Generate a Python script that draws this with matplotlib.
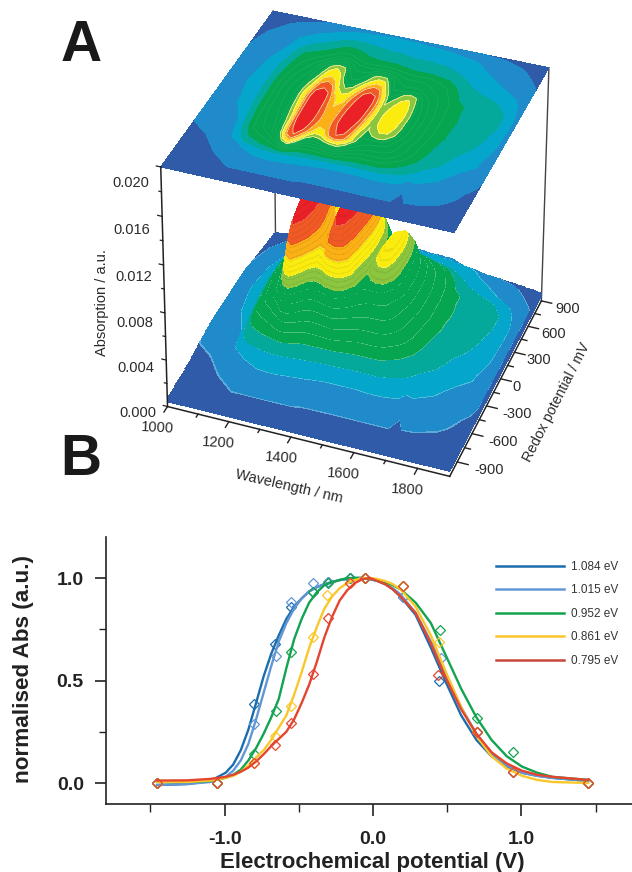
import numpy as np
import matplotlib
matplotlib.use("Agg")
import matplotlib.pyplot as plt

FIG_W, FIG_H = 632, 872
plt.rcParams['font.family'] = ['Liberation Sans', 'DejaVu Sans']

# ---------- Panel A data: absorption (table units, 0.7e-4 each) ----------
wavelengths = [1000,1060,1120,1180,1230,1260,1280,1300,1320,1340,1360,1380,1400,1420,1440,1460,1480,1500,1520,1540,1560,1580,1600,1640,1680,1700,1720,1760,1820,1860,1900]
potentials = [-1050,-900,-750,-650,-575,-500,-425,-350,-275,-200,-125,-50,25,100,175,250,325,400,475,550,650,800,900]
abs_m1050 = [10,11,12,12,13,13,13,13,13,13,13,13,13,13,13,13,13,13,13,13,13,13,13,13,13,6,13,13,13,12,11]
abs_m900 = [12,13,15,18,18,18,18,18,18,18,18,18,17,17,17,17,17,17,17,17,17,17,17,17,17,9,16,16,15,14,12]
abs_m750 = [13,15,19,24,29,30,30,30,29,29,28,28,27,27,26,26,26,26,26,26,26,27,27,27,27,20,26,24,20,17,14]
abs_m650 = [14,17,22,33,41,43,44,44,43,42,41,40,39,38,37,37,37,37,37,37,38,38,39,38,35,29,32,28,23,19,15]
abs_m575 = [16,19,26,50,60,66,74,76,68,62,60,60,60,60,60,60,58,57,56,56,56,56,56,50,45,42,39,34,27,22,17]
abs_m500 = [18,22,28,62,72,84,120,140,108,85,80,80,82,86,90,84,78,75,72,72,72,72,70,62,53,48,44,38,29,24,18]
abs_m425 = [19,24,30,70,84,112,158,178,150,115,105,106,116,122,125,112,100,92,88,86,86,86,84,72,60,54,50,44,33,28,20]
abs_m350 = [21,25,33,73,88,118,172,193,178,150,130,136,160,178,172,146,118,105,100,98,98,96,92,78,64,58,53,47,37,32,23]
abs_m275 = [22,26,35,75,90,122,178,196,188,162,146,150,172,186,184,158,122,110,112,115,114,105,96,80,66,60,55,48,41,33,24]
abs_m200 = [22,28,38,76,93,128,182,197,192,166,150,154,178,192,192,170,132,114,124,130,128,118,104,84,68,62,57,50,44,36,25]
abs_m125 = [22,28,40,77,96,135,186,198,192,165,150,152,178,195,197,178,140,116,130,138,136,122,108,85,70,64,59,52,46,39,26]
abs_m50 = [22,29,41,77,98,140,188,198,190,162,146,150,176,194,198,182,148,117,132,142,140,124,108,86,70,64,59,52,48,41,26]
abs_p25 = [22,30,42,78,100,145,190,198,188,158,142,146,172,192,198,185,152,118,130,142,142,126,108,86,70,64,60,53,49,42,26]
abs_p100 = [22,30,43,78,100,140,182,192,182,148,132,138,164,188,197,186,152,115,124,138,140,124,106,85,70,64,60,53,50,44,26]
abs_p175 = [22,29,42,76,97,128,165,175,165,130,118,124,150,178,188,180,145,110,116,128,134,120,102,82,69,63,59,53,50,44,26]
abs_p250 = [22,28,41,73,92,118,148,156,145,118,106,110,130,155,168,162,128,102,108,116,122,114,96,80,68,62,59,53,50,44,26]
abs_p325 = [22,27,40,69,86,108,132,138,130,108,96,98,108,128,142,138,112,94,90,90,92,90,84,76,64,58,55,51,47,40,25]
abs_p400 = [20,25,37,65,80,98,118,128,122,100,90,90,95,112,118,116,100,88,84,84,84,82,78,72,60,54,51,47,43,36,24]
abs_p475 = [18,24,34,61,70,80,92,100,100,88,80,78,78,80,82,82,78,74,72,72,72,72,70,64,54,49,46,42,37,31,22]
abs_p550 = [17,23,32,52,60,66,72,74,72,68,64,62,62,62,62,62,60,60,58,58,58,58,56,54,47,44,40,36,31,26,20]
abs_p650 = [15,22,30,40,48,54,58,60,59,57,55,53,52,50,50,50,49,48,48,48,48,47,47,44,40,37,35,32,27,22,17]
abs_p800 = [13,16,22,27,32,35,37,38,38,38,38,38,38,38,38,37,37,36,36,36,36,35,35,34,32,31,29,27,20,16,13]
abs_p900 = [11,12,14,18,24,26,27,27,28,28,29,29,30,30,30,30,30,30,29,29,29,28,28,22,20,18,17,16,14,12,11]
abs_rows = [abs_m1050,abs_m900,abs_m750,abs_m650,abs_m575,abs_m500,abs_m425,abs_m350,abs_m275,abs_m200,abs_m125,abs_m50,
            abs_p25,abs_p100,abs_p175,abs_p250,abs_p325,abs_p400,abs_p475,abs_p550,abs_p650,abs_p800,abs_p900]
ABS_UNIT = 0.7e-4

band_edges = [0, 18, 32, 45, 58, 115, 128, 145, 160, 180, 205]
band_colors = ['#2F5BA9','#1F8BCB','#05A6CB','#05A99C','#06A650','#8CC63F','#FBEC10','#FBB116','#F15A24','#EA2227']
pale_levels = [18, 32, 45, 58, 68, 78, 88, 98, 108, 115, 128, 145, 160, 180]

wave_ticks = [1000,1200,1400,1600,1800]
pot_ticks = [-900,-600,-300,0,300,600,900]
abs_ticks = [0.000,0.004,0.008,0.012,0.016,0.020]

# ---------- Panel B data ----------
curve_v = [-1.455,-1.25,-1.096,-.993,-.942,-.891,-.84,-.788,-.737,-.686,-.635,-.584,-.532,-.481,-.43,-.379,-.328,-.276,-.225,-.174,-.123,-.071,-.02,.031,.082,.133,.185,.287,.39,.492,.594,.697,.799,.902,1.004,1.107,1.209,1.45]
curve_1084 = [-.01,-.005,.01,.05,.09,.16,.26,.39,.52,.63,.72,.80,.86,.90,.935,.955,.97,.98,.99,.995,1.0,1.0,.995,.985,.97,.945,.91,.82,.66,.49,.33,.21,.13,.08,.05,.035,.025,.01]
curve_1015 = [-.01,-.005,.005,.03,.06,.11,.19,.31,.44,.57,.69,.78,.85,.90,.935,.955,.97,.98,.99,.995,1.0,1.0,.995,.985,.97,.95,.92,.83,.69,.53,.37,.24,.14,.085,.05,.035,.025,.01]
curve_0952 = [.005,.005,.01,.025,.04,.065,.11,.17,.24,.32,.41,.56,.70,.80,.88,.93,.965,.98,.99,1.0,1.0,1.0,.995,.99,.98,.965,.945,.88,.78,.62,.46,.32,.21,.13,.08,.05,.03,.015]
curve_0861 = [.005,.005,.012,.025,.035,.055,.085,.125,.16,.21,.27,.33,.43,.54,.66,.76,.85,.91,.95,.975,.99,1.0,1.0,.995,.985,.97,.945,.86,.72,.54,.37,.23,.13,.07,.035,.015,.005,.0]
curve_0795 = [.012,.013,.02,.03,.04,.055,.075,.105,.14,.18,.215,.25,.31,.39,.48,.59,.71,.81,.89,.94,.975,.995,1.0,.985,.97,.945,.91,.83,.68,.51,.36,.24,.15,.095,.06,.04,.03,.015]
pts_1084_v = [-1.455,-1.05,-.80,-.66,-.553,-.404,-.303,-.155,-.054,.202,.445,.70,.943,1.449]
pts_1084_a = [0,0,.385,.678,.86,.93,.98,1.0,1.0,.907,.50,.25,.053,0]
pts_1015_v = [-1.455,-1.05,-.80,-.653,-.553,-.404,-.303,-.155,-.054,.202,.458,.70,.943,1.449]
pts_1015_a = [0,0,.288,.62,.883,.975,.98,1.0,1.0,.907,.61,.25,.053,0]
pts_0952_v = [-1.455,-1.05,-.80,-.653,-.553,-.404,-.303,-.155,-.054,.202,.451,.70,.943,1.449]
pts_0952_a = [0,0,.14,.35,.64,.93,.975,1.0,1.0,.96,.746,.317,.15,0]
pts_0861_v = [-1.455,-1.05,-.80,-.66,-.553,-.404,-.31,-.155,-.054,.202,.445,.70,.943,1.449]
pts_0861_a = [0,0,.098,.23,.376,.71,.917,.975,1.0,.96,.69,.25,.053,0]
pts_0795_v = [-1.455,-1.05,-.80,-.66,-.553,-.404,-.303,-.155,-.054,.202,.438,.70,.943,1.449]
pts_0795_a = [0,0,.098,.185,.293,.53,.805,.975,1.0,.96,.527,.25,.053,0]
series_labels = ['1.084 eV','1.015 eV','0.952 eV','0.861 eV','0.795 eV']
series_colors = ['#1B6DAE','#6296D4','#12A350','#FAC72B','#E4452F']
legend_colors = ['#1B6DAE','#6296D4','#12A350','#FAC72B','#C8473A']

# ---------- figure ----------
fig = plt.figure(figsize=(FIG_W/100, FIG_H/100), dpi=100, facecolor='white')

W_MIN, W_MAX, P_MIN, P_MAX, Z_TOP = 1000., 1900., -1050., 900., 0.02
box_pts = [(0,0,0),(1,0,0),(1,1,0),(0,1,0),(0,0,1),(1,0,1),(1,1,1),(0,1,1)]
box_px = [(169,410),(448,475),(541,305),(276,234),(160,168),(455,229),(550,68),(272,13)]
rows = []
for (u,v,w),(px,py) in zip(box_pts, box_px):
    rows.append([u,v,w,1,0,0,0,0,-px*u,-px*v,-px*w,-px])
    rows.append([0,0,0,0,u,v,w,1,-py*u,-py*v,-py*w,-py])
Pn = np.linalg.svd(np.array(rows,float))[2][-1].reshape(3,4)
S = np.array([[1/(W_MAX-W_MIN),0,0,-W_MIN/(W_MAX-W_MIN)],
              [0,1/(P_MAX-P_MIN),0,-P_MIN/(P_MAX-P_MIN)],
              [0,0,1/Z_TOP,0],[0,0,0,1]])
P = Pn @ S
if (P @ np.array([1000,-1050,0,1.]))[2] < 0:
    P = -P

def to_px(x,y,z):
    h = P @ np.array([x,y,z,1.])
    return h[0]/h[2], h[1]/h[2]

def page_text(px,py,s,**kw):
    fig.text(px/FIG_W, 1-py/FIG_H, s, ha=kw.pop('ha','center'), va=kw.pop('va','center'), **kw)

ax3 = fig.add_axes([0, 1-632/872, 1, 632/872], projection='3d', computed_zorder=False)
ax3.set_axis_off()

def fixed_proj():
    A = ax3.transData.inverted().get_matrix()
    D = np.array([[1,0,0],[0,-1,FIG_H],[0,0,1.]])
    H = A @ D @ P
    return np.vstack([H[0],H[1],[0,0,-1,0],H[2]])
ax3.get_proj = fixed_proj

XX, YY = np.meshgrid(np.array(wavelengths,float), np.array(potentials,float))
TT = np.array(abs_rows,float)

INK = '#2a2a2a'
for (wx,py_) in [(W_MIN,P_MAX),(W_MAX,P_MAX)]:
    ax3.plot([wx,wx],[py_,py_],[0,Z_TOP],color='#444444',lw=1.0,zorder=1)

def band_color(val):
    i = np.searchsorted(band_edges, val, side='right')-1
    return band_colors[min(i,len(band_colors)-1)]

def mix(c, t, w):
    a = np.array(matplotlib.colors.to_rgb(c)); b = np.array(matplotlib.colors.to_rgb(t))
    return tuple(a*(1-w)+b*w)

# surface: stacked layers, one per height, each covering everything above it
step = 1.4
thin = 0.5
base = list(np.arange(TT.min()+0.01, TT.max(), step))
layers = sorted(base + [float(L) for L in pale_levels] + [L+thin for L in pale_levels])
for i,a in enumerate(layers):
    c = band_color(a)
    if a in pale_levels:
        c = mix(c,'#ffffff',0.28)
    elif a >= 115 and i%4==0:
        c = mix(c,'#000000',0.06)
    ax3.contourf(XX,YY,TT,levels=[a,1000],colors=[c],zdir='z',offset=a*ABS_UNIT,zorder=5+i*0.001)

# projection on the top plane
ax3.contourf(XX,YY,TT,levels=band_edges,colors=band_colors,zdir='z',offset=Z_TOP,zorder=20)
ax3.contour(XX,YY,TT,levels=[68,78,88,98,108],colors='#2BB265',linewidths=0.3,zdir='z',offset=Z_TOP,zorder=21)
ax3.contour(XX,YY,TT,levels=[115,128,145,160,180],colors='#F6F2A0',linewidths=0.55,zdir='z',offset=Z_TOP,zorder=21)

AXC = '#222222'
ax3.plot([W_MIN,W_MIN],[P_MIN,P_MIN],[0,Z_TOP],color=AXC,lw=1.1,zorder=30)
ax3.plot([W_MIN,W_MAX],[P_MIN,P_MIN],[0,0],color=AXC,lw=1.1,zorder=30)
ax3.plot([W_MAX,W_MAX],[P_MIN,P_MAX],[0,0],color=AXC,lw=1.1,zorder=30)
for t in np.arange(1000,1900,100):
    ln = 60 if t%200==0 else 32
    ax3.plot([t,t],[P_MIN,P_MIN-ln],[0,0],color=AXC,lw=1.0,zorder=30)
for t in np.arange(-900,901,150):
    ln = 34 if t%300==0 else 18
    ax3.plot([W_MAX,W_MAX+ln],[t,t],[0,0],color=AXC,lw=1.0,zorder=30)
for t in np.arange(0,0.0201,0.002):
    ln = 14 if round(t*1000)%4==0 else 8
    ax3.plot([W_MIN,W_MIN-ln],[P_MIN,P_MIN],[t,t],color=AXC,lw=0.9,zorder=30)

for t in wave_ticks:
    px,py = to_px(t,P_MIN,0)
    page_text(px-10,py+21,f'{t}',fontsize=10.5,color=INK,rotation=-3)
pot_dx = [32,31,31,16,24,25,26]
for t,dx in zip(pot_ticks,pot_dx):
    px,py = to_px(W_MAX,t,0)
    page_text(px+dx,py+8,f'{t}',fontsize=10.5,color=INK)
for t in abs_ticks:
    px,py = to_px(W_MIN,P_MIN,t)
    page_text(px-30,py+6+10*t/0.02,f'{t:.3f}',fontsize=10.5,color=INK)
page_text(102,303,'Absorption / a.u.',rotation=90,fontsize=10.5,color=INK)
page_text(289,487,'Wavelength / nm',rotation=-13,fontsize=10.5,color=INK)
page_text(557,402,'Redox potential / mV',rotation=63,fontsize=10.2,color=INK)
page_text(81,46,'A',fontsize=41,fontweight='bold',color='#1a1a1a')
page_text(81,460,'B',fontsize=41,fontweight='bold',color='#1a1a1a')

# ---------- Panel B ----------
L,R,T,B = 106,632,537,804
X0,XS,Y0,YS = 373,148.4,783,205
axb = fig.add_axes([L/FIG_W, 1-B/FIG_H, (R-L)/FIG_W, (B-T)/FIG_H])
axb.set_xlim((L-X0)/XS,(R-X0)/XS)
axb.set_ylim((Y0-B)/YS,(Y0-T)/YS)
curves = [curve_1084,curve_1015,curve_0952,curve_0861,curve_0795]
pts = [(pts_1084_v,pts_1084_a),(pts_1015_v,pts_1015_a),(pts_0952_v,pts_0952_a),(pts_0861_v,pts_0861_a),(pts_0795_v,pts_0795_a)]
for cv,(pv,pa),lab,col in zip(curves,pts,series_labels,series_colors):
    axb.plot(curve_v,cv,color=col,lw=1.7,solid_joinstyle='round',label=lab)
    axb.plot(pv,pa,ls='none',marker='D',ms=5,mfc='none',mec=col,mew=0.9)
for s in ['top','right']:
    axb.spines[s].set_visible(False)
for s in ['left','bottom']:
    axb.spines[s].set_linewidth(1.2); axb.spines[s].set_color(AXC)
axb.set_xticks([-1,0,1]); axb.set_xticklabels(['-1.0','0.0','1.0'])
axb.set_yticks([0,.5,1]); axb.set_yticklabels(['0.0','0.5','1.0'])
axb.set_xticks([-1.5,-.5,.5,1.5],minor=True)
axb.set_yticks([.25,.75],minor=True)
axb.tick_params(axis='x',which='major',length=8.6,width=1.2,labelsize=14,colors=AXC,pad=11)
axb.tick_params(axis='x',which='minor',length=5.8,width=1.0,colors=AXC)
axb.tick_params(axis='y',which='major',length=8,width=1.2,labelsize=14,colors=AXC,pad=8)
axb.tick_params(axis='y',which='minor',length=5,width=1.0,colors=AXC)
for t in axb.get_xticklabels()+axb.get_yticklabels():
    t.set_fontweight('bold')
page_text(372,862,'Electrochemical potential (V)',fontsize=16,fontweight='bold',color=AXC)
page_text(24,669,'normalised Abs (a.u.)',fontsize=16.2,fontweight='bold',color=AXC,rotation=90)

handles = [plt.Line2D([],[],color=c,lw=1.8) for c in legend_colors]
leg = axb.legend(handles,series_labels,loc='upper left',bbox_to_anchor=((496-L)/(R-L),(B-561)/(B-T)),frameon=False,
                 handlelength=5.76,handletextpad=0.6,labelspacing=0.97,borderpad=0,borderaxespad=0,
                 prop={'family':['Liberation Sans'],'size':8.5})
for t in leg.get_texts():
    t.set_color('#333333')
fig.savefig('out.png',dpi=100)
